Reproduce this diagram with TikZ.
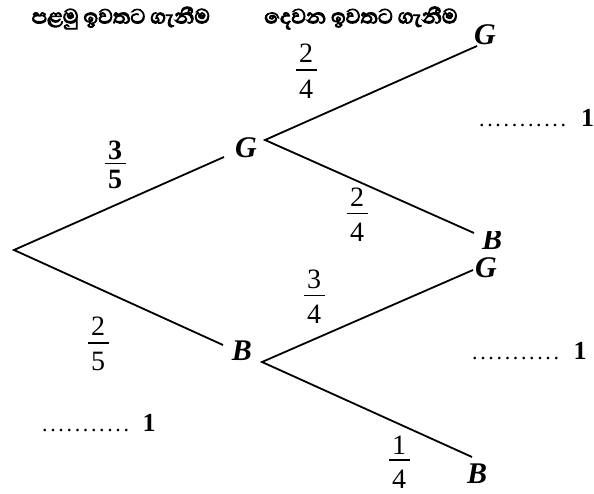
\documentclass[tikz,border=0pt]{standalone}
\usepackage{fontspec}
\setmainfont{Liberation Serif}
\newfontfamily\sinfont[Script=Sinhala, FakeBold=4]{Abhaya Libre}
\newcommand{\myfr}[4]{\vbox{\halign{\hfil\kern3.5pt##\kern3.5pt\hfil\cr #1\cr\noalign{\kern#3\hrule height 1.3pt\kern#4} #2\cr}}}
\begin{document}
\begin{tikzpicture}[x=1pt,y=1pt,
  branch/.style={line width=1.8pt},
  lbl/.style={font=\fontsize{30}{34}\selectfont\bfseries\itshape, inner sep=0pt},
  fracn/.style={font=\fontsize{28}{28}\selectfont, inner sep=0pt},
  head/.style={font=\fontsize{26}{30}\selectfont\sinfont, inner sep=0pt},
  blank/.style={font=\fontsize{22}{26}\selectfont\addfontfeature{LetterSpace=12}, inner sep=0pt, anchor=base west},
  one/.style={font=\fontsize{26}{30}\selectfont\bfseries, inner sep=0pt, anchor=base}]
\useasboundingbox (0,0) rectangle (594,494);
% headers
\node[head] (h1) at (121,476) {පළමු ඉවතට ගැනීම};
\node[head] (h2) at (361,476) {දෙවන ඉවතට ගැනීම};
% branch points
\coordinate (root) at (14,244);
\coordinate (g1e) at (224,337);
\coordinate (b1e) at (223,149);
\coordinate (g1s) at (265,354);
\coordinate (b1s) at (262,132);
\coordinate (g2e) at (477,448);
\coordinate (b2e) at (474,261);
\coordinate (g3e) at (473,224);
\coordinate (b3e) at (472,37);
% labels
\node[lbl] (G1) at (246,346) {G};
\node[lbl] (B1) at (242,143) {B};
\node[lbl] (G2) at (485,459) {G};
\begin{scope}
\clip (440,200) rectangle (594,262);
\node[lbl] (B2) at (492,254) {B};
\end{scope}
\node[lbl] (G3) at (486,226) {G};
\node[lbl] (B3) at (477,20) {B};
% lines
\draw[branch] (g1e) -- (root) -- (b1e);
\draw[branch] (g2e) -- (g1s) -- (b2e);
\draw[branch] (g3e) -- (b1s) -- (b3e);
% probabilities
\node[fracn, font=\fontsize{28}{28}\selectfont\bfseries] (p1) at (115,329) {\myfr{3}{5}{3pt}{6pt}};
\node[fracn] (p2) at (98,150) {\myfr{2}{5}{7pt}{9pt}};
\node[fracn] (p3) at (306,423) {\myfr{2}{4}{7pt}{9pt}};
\node[fracn] (p4) at (357,279) {\myfr{2}{4}{6pt}{9pt}};
\node[fracn] (p5) at (314,197) {\myfr{3}{4}{6pt}{9pt}};
\node[fracn] (p6) at (399,32) {\myfr{1}{4}{5pt}{9pt}};
% blanks
\node[blank] (d1) at (479,367) {...........};
\node[one] (o1) at (587.5,367) {1};
\node[blank] (d2) at (472,134) {...........};
\node[one] (o2) at (580,134) {1};
\node[blank] (d3) at (42,62) {...........};
\node[one] (o3) at (149,62) {1};
\end{tikzpicture}
\end{document}
